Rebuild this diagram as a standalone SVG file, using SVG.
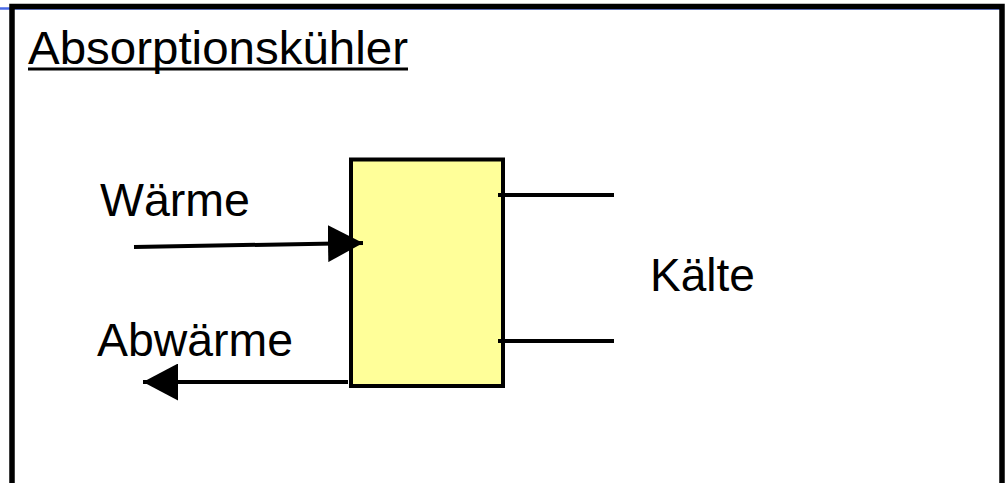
<svg xmlns="http://www.w3.org/2000/svg" width="1007" height="483" viewBox="0 0 1007 483">
  <style>
    .lbl { font-family: "Liberation Sans", Arial, sans-serif; font-size: 46px; fill: #000; }
    .wire { stroke: #000; stroke-width: 4; fill: none; }
  </style>
  <defs>
    <marker id="head" markerUnits="userSpaceOnUse" markerWidth="36" markerHeight="37" refX="35" refY="18.5" orient="auto">
      <path d="M0,0 L35,18.5 L0,37 Z" fill="#000"/>
    </marker>
  </defs>
  <rect width="1007" height="483" fill="#fff"/>
  <!-- slide rule line -->
  <line x1="0" y1="8.5" x2="1000" y2="8.5" stroke="#4a6ae6" stroke-width="2.5"/>
  <!-- outer frame -->
  <rect x="12" y="6.5" width="990" height="500" fill="none" stroke="#000" stroke-width="5.5"/>

  <g id="title">
    <text class="lbl" x="28" y="64" font-size="47" textLength="380" lengthAdjust="spacingAndGlyphs">Absorptionskühler</text>
    <line x1="28" y1="69" x2="408" y2="69" stroke="#000" stroke-width="3"/>
  </g>

  <g id="chiller">
    <rect x="351" y="159.5" width="152" height="226.5" fill="#ffff99" stroke="#000" stroke-width="4"/>
  </g>

  <g id="label-waerme"><text class="lbl" x="100" y="216" textLength="150" lengthAdjust="spacingAndGlyphs">Wärme</text></g>
  <g id="label-abwaerme"><text class="lbl" x="97" y="356" textLength="196" lengthAdjust="spacingAndGlyphs">Abwärme</text></g>
  <g id="label-kaelte"><text class="lbl" x="650" y="291">Kälte</text></g>

  <g id="connectors">
    <line class="wire" x1="134" y1="247" x2="363" y2="243" marker-end="url(#head)"/>
    <line class="wire" x1="348" y1="382" x2="143" y2="382" marker-end="url(#head)"/>
    <line class="wire" x1="498" y1="195" x2="614" y2="195"/>
    <line class="wire" x1="498" y1="341" x2="614" y2="341"/>
  </g>
</svg>
